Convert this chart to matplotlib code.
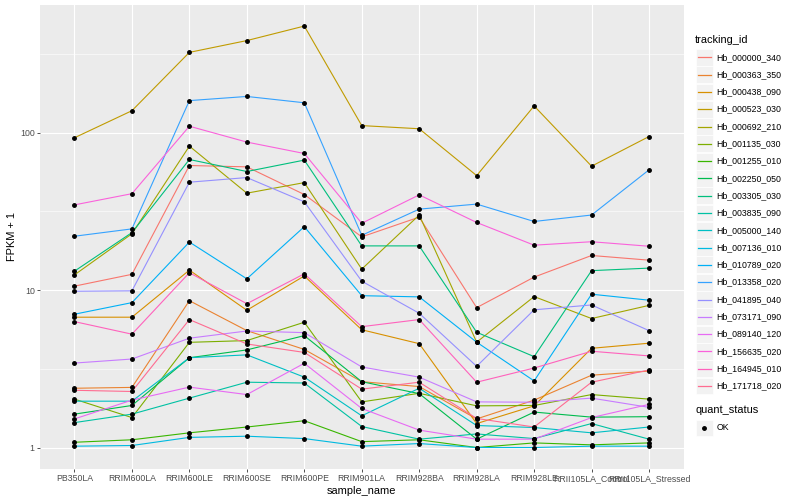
import matplotlib
matplotlib.use('Agg')
import matplotlib.pyplot as plt
import numpy as np
from matplotlib.patches import Rectangle
from matplotlib.lines import Line2D

plt.rcParams['font.family'] = ['Liberation Sans', 'DejaVu Sans']

samples = ["PB350LA", "RRIM600LA", "RRIM600LE", "RRIM600SE", "RRIM600PE",
           "RRIM901LA", "RRIM928BA", "RRIM928LA", "RRIM928LE",
           "RRII105LA_Control", "RRII105LA_Stressed"]

tracking_ids = ["Hb_000000_340", "Hb_000363_350", "Hb_000438_090", "Hb_000523_030",
                "Hb_000692_210", "Hb_001135_030", "Hb_001255_010", "Hb_002250_050",
                "Hb_003305_030", "Hb_003835_090", "Hb_005000_140", "Hb_007136_010",
                "Hb_010789_020", "Hb_013358_020", "Hb_041895_040", "Hb_073171_090",
                "Hb_089140_120", "Hb_156635_020", "Hb_164945_010", "Hb_171718_020"]

# ggplot hue palette, 20 levels
colors = ["#F8766D", "#EA8331", "#D89000", "#C09B00", "#A3A500", "#7CAE00",
          "#39B600", "#00BB4E", "#00BF7D", "#00C1A3", "#00BFC4", "#00BAE0",
          "#00B0F6", "#35A2FF", "#9590FF", "#C77CFF", "#E76BF3", "#FA62DB",
          "#FF62BC", "#FF6C91"]

# FPKM + 1 per tracking id, one value per sample
fpkm = [
    [10.6, 12.6, 61.9, 60.7, 40.5, 21.8, 29.1, 7.74, 12.1, 16.6, 15.5],
    [2.38, 2.41, 8.57, 5.53, 4.2, 2.62, 2.44, 1.52, 2.0, 2.88, 3.06],
    [6.73, 6.73, 13.4, 7.45, 12.3, 5.6, 4.57, 1.42, 1.84, 4.27, 4.6],
    [92.9, 138, 324, 385, 476, 111, 106, 53.4, 148, 61.3, 94.6],
    [12.5, 22.8, 82.2, 41.3, 48.2, 13.6, 30.0, 4.67, 9.1, 6.6, 8.0],
    [2.03, 1.55, 4.66, 4.78, 6.25, 1.95, 2.21, 1.84, 1.85, 2.17, 2.03],
    [1.08, 1.12, 1.24, 1.35, 1.48, 1.09, 1.12, 1.0, 1.07, 1.04, 1.07],
    [1.63, 1.85, 3.72, 4.17, 5.14, 2.62, 2.2, 1.13, 1.68, 1.56, 1.57],
    [13.2, 23.2, 67.6, 56.7, 67.0, 19.1, 19.1, 5.4, 3.78, 13.3, 13.8],
    [1.44, 1.63, 2.06, 2.6, 2.57, 1.36, 1.13, 1.22, 1.14, 1.42, 1.13],
    [1.97, 1.97, 3.72, 3.88, 2.8, 1.59, 2.38, 1.38, 1.34, 1.24, 1.35],
    [1.02, 1.03, 1.16, 1.18, 1.14, 1.02, 1.06, 1.0, 1.0, 1.02, 1.02],
    [7.03, 8.33, 20.2, 11.8, 25.3, 9.22, 9.06, 4.67, 2.65, 9.42, 8.63],
    [22.0, 24.5, 160, 170, 155, 22.3, 32.7, 35.2, 27.3, 30.0, 58.1],
    [9.84, 9.9, 48.5, 51.9, 36.4, 11.4, 7.13, 3.28, 7.5, 8.05, 5.53],
    [3.44, 3.65, 4.95, 5.5, 5.37, 3.25, 2.8, 1.95, 1.94, 2.06, 1.8],
    [1.52, 2.0, 2.42, 2.17, 3.43, 1.77, 1.29, 1.13, 1.13, 1.55, 1.88],
    [34.8, 41.0, 110, 87.2, 73.8, 26.6, 40.3, 26.9, 19.3, 20.3, 19.0],
    [6.31, 5.25, 12.9, 8.2, 12.7, 5.86, 6.5, 2.6, 3.2, 4.09, 3.82],
    [2.31, 2.27, 6.5, 4.55, 4.02, 2.35, 2.6, 1.53, 1.35, 2.6, 3.11],
]

W, H = 800, 500
fig = plt.figure(figsize=(8, 5), dpi=100)
ax = fig.add_axes([40 / W, (H - 468.6) / H, (683.5 - 40) / W, (468.6 - 5) / H])
ax.set_facecolor('#EBEBEB')
for s in ax.spines.values():
    s.set_visible(False)

x = np.arange(len(samples))
for vals, col in zip(fpkm, colors):
    ax.plot(x, vals, color=col, lw=0.8, zorder=3)
for vals in fpkm:
    ax.plot(x, vals, ls='none', marker='o', ms=2.5, color='black', zorder=4)

ax.set_yscale('log')
lo = np.log10(min(min(v) for v in fpkm))
hi = np.log10(max(max(v) for v in fpkm))
pad = 0.05 * (hi - lo)
ax.set_ylim(10 ** (lo - pad), 10 ** (hi + pad))
ax.set_xlim(-0.6, len(samples) - 1 + 0.6)

ax.set_yticks([1, 10, 100])
ax.set_yticklabels(['1', '10', '100'])
ax.set_yticks([10 ** 0.5, 10 ** 1.5, 10 ** 2.5], minor=True)
ax.set_xticks(x)
ax.set_xticklabels(samples)
ax.grid(which='major', color='white', lw=0.8, zorder=0)
ax.grid(which='minor', axis='y', color='white', lw=0.4, zorder=0)
ax.set_axisbelow(True)
ax.tick_params(which='major', length=2, width=0.6, color='#333333',
               labelcolor='#4D4D4D', labelsize=6.3, pad=1.8)
ax.tick_params(which='minor', length=0)

ax.set_xlabel('sample_name', fontsize=7.9, labelpad=2)
ax.set_ylabel('FPKM + 1', fontsize=7.9, labelpad=2)


def fx(px):
    return px / W


def fy(py):
    return 1 - py / H


def key_box(yc):
    fig.add_artist(Rectangle((fx(695.5), fy(yc + 8.4)), 17 / W, 16.8 / H,
                             transform=fig.transFigure, facecolor='#F2F2F2',
                             edgecolor='white', lw=0.5, zorder=1))


# legend: tracking_id
fig.text(fx(695), fy(40), 'tracking_id', fontsize=7.9, va='center', ha='left')
for i, (name, col) in enumerate(zip(tracking_ids, colors)):
    yc = 57.3 + i * 17.3
    key_box(yc)
    fig.add_artist(Line2D([fx(697.5), fx(710.5)], [fy(yc), fy(yc)], color=col,
                          lw=0.9, transform=fig.transFigure, zorder=5))
    fig.text(fx(716.5), fy(yc), name, fontsize=6.3, va='center', ha='left')

# legend: quant_status
fig.text(fx(695), fy(410), 'quant_status', fontsize=7.9, va='center', ha='left')
yc = 428
key_box(yc)
fig.add_artist(Line2D([fx(704)], [fy(yc)], marker='o', ms=2.5, color='black',
                      ls='none', transform=fig.transFigure, zorder=5))
fig.text(fx(716.5), fy(yc), 'OK', fontsize=6.3, va='center', ha='left')

fig.savefig('out.png', dpi=100)
